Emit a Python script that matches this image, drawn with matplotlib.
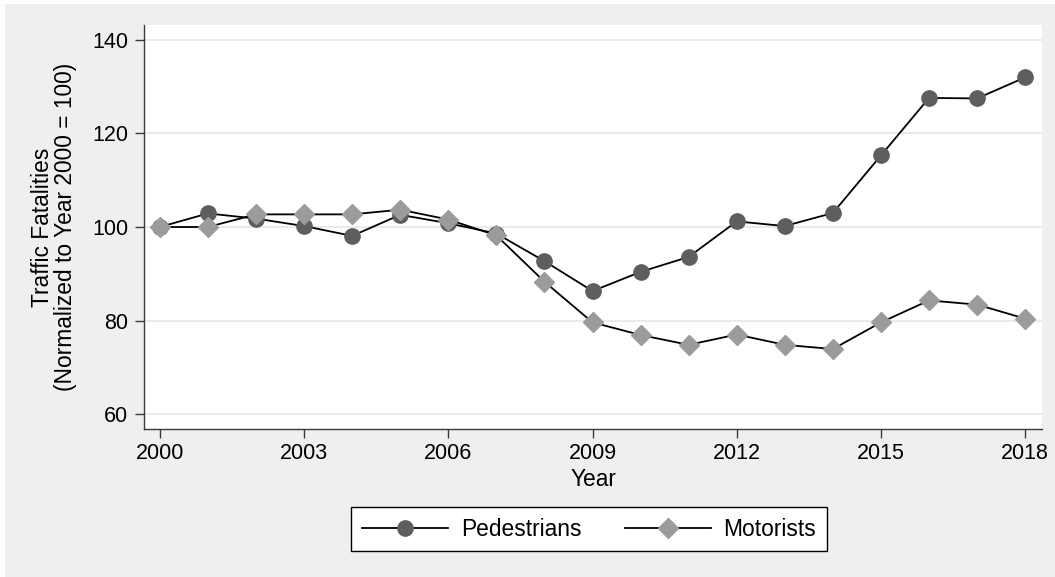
import matplotlib
matplotlib.use("Agg")
import matplotlib.pyplot as plt
from matplotlib.patches import Rectangle

years = list(range(2000, 2019))
pedestrians = [100.0, 102.9, 101.8, 100.2, 98.1, 102.6, 100.8, 98.6, 92.7, 86.3,
               90.4, 93.6, 101.2, 100.2, 103.0, 115.3, 127.6, 127.5, 132.0]
motorists = [100.0, 100.0, 102.7, 102.7, 102.7, 103.7, 101.6, 98.2, 88.3, 79.6,
             76.9, 74.8, 77.0, 74.8, 73.9, 79.6, 84.3, 83.4, 80.4]
xticks = [2000, 2003, 2006, 2009, 2012, 2015, 2018]
yticks = [60, 80, 100, 120, 140]

plt.rcParams['font.family'] = ['Liberation Sans', 'DejaVu Sans']

W, H = 1055, 577
fig = plt.figure(figsize=(W / 100, H / 100), dpi=100)
fig.patch.set_facecolor('white')
fig.patches.append(Rectangle((5 / W, 0), 1 - 5 / W, 1 - 4 / H, transform=fig.transFigure,
                             facecolor='#efefef', edgecolor='none', zorder=-10))

ax = fig.add_axes([144 / W, 1 - 429 / H, (1042 - 144) / W, (429 - 25) / H])
ax.set_facecolor('white')

ax.plot(years, pedestrians, color='black', lw=1.3, marker='o', markersize=11,
        markerfacecolor='#5e5e5e', markeredgecolor='#5e5e5e', label='Pedestrians', zorder=3)
ax.plot(years, motorists, color='black', lw=1.3, marker='D', markersize=10,
        markerfacecolor='#9b9b9b', markeredgecolor='#9b9b9b', label='Motorists', zorder=4)

ax.set_xlim(1999.67, 2018.35)
ax.set_ylim(56.8, 143.2)
ax.set_xticks(xticks)
ax.set_yticks(yticks)
ax.grid(axis='y', color='#e6e6e6', lw=1.2)
ax.set_axisbelow(True)
for s in ['top', 'right']:
    ax.spines[s].set_visible(False)
for s in ['left', 'bottom']:
    ax.spines[s].set_color('#3a3a3a')
    ax.spines[s].set_linewidth(1.0)
ax.tick_params(axis='both', labelsize=15.5, length=6.5, width=1.0, color='#3a3a3a', pad=3.5)
ax.tick_params(axis='y', pad=5)

ax.set_xlabel('Year', fontsize=16.4, labelpad=3)
fig.text(54 / W, 1 - 227 / H, 'Traffic Fatalities\n(Normalized to Year 2000 = 100)',
         rotation=90, ha='center', va='center', fontsize=16.4, linespacing=1.0,
         multialignment='center')

leg = fig.legend(loc='center', bbox_to_anchor=(589 / W, 1 - 529 / H), ncol=2,
                 fontsize=16.4, frameon=True, fancybox=False, handlelength=3.8,
                 columnspacing=1.9, handletextpad=0.55, borderpad=0.45, borderaxespad=0)
leg.get_frame().set_edgecolor('black')
leg.get_frame().set_linewidth(1.0)
leg.get_frame().set_facecolor('white')
leg.get_frame().set_alpha(1)

fig.savefig('out.png', dpi=100, facecolor=fig.get_facecolor())
